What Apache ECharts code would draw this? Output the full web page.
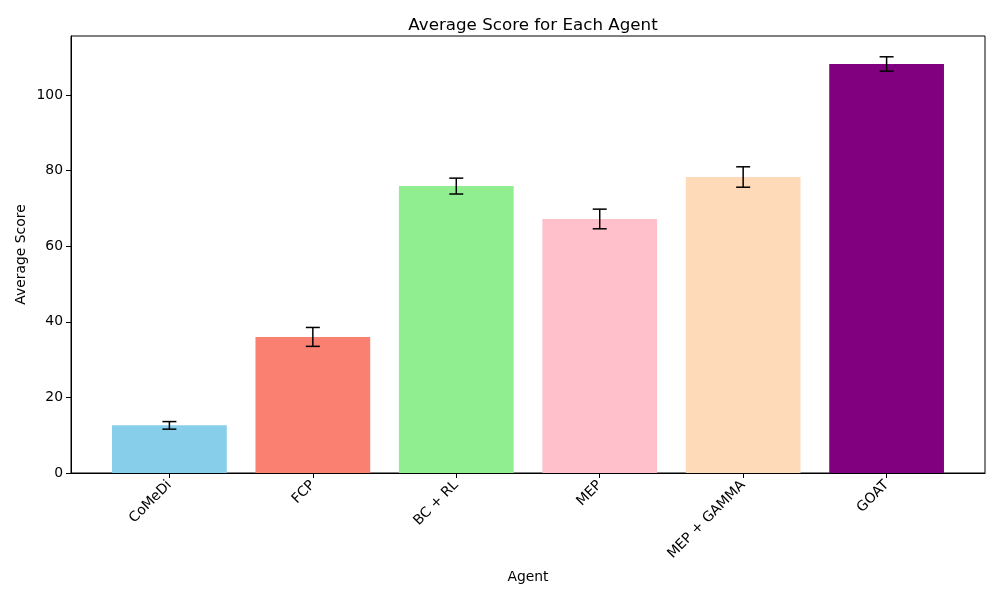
<!DOCTYPE html>
<html>
<head>
<meta charset="utf-8">
<script src="https://cdn.jsdelivr.net/npm/echarts@6/dist/echarts.min.js"></script>
<style>
html,body{margin:0;padding:0;background:#fff;}
#chart{width:1000px;height:600px;}
</style>
</head>
<body>
<div id="chart"></div>
<script>
const categories = ['CoMeDi', 'FCP', 'BC + RL', 'MEP', 'MEP + GAMMA', 'GOAT'];
const scores = [12.6, 36.0, 75.9, 67.2, 78.3, 108.2];
const errors = [1.0, 2.5, 2.1, 2.6, 2.7, 1.9];
const yTicks = [0, 20, 40, 60, 80, 100];

const barColors = ['#87CEEB', '#FA8072', '#90EE90', '#FFC0CB', '#FFDAB9', '#800080'];
const FONT = 'DejaVu Sans';

const barData = categories.map((c, i) => [i, scores[i]]);
const errData = categories.map((c, i) => [i, scores[i], errors[i]]);
const xIdx = categories.map((c, i) => i);

const chart = echarts.init(document.getElementById('chart'), null, {renderer: 'canvas'});
chart.setOption({
  animation: false,
  backgroundColor: '#fff',
  title: {
    text: 'Average Score for Each Agent',
    left: 528, top: 12, textAlign: 'center',
    textStyle: {fontFamily: FONT, fontSize: 16.7, fontWeight: 'normal', color: '#000'}
  },
  grid: {left: 71, right: 15, top: 36, bottom: 127, show: true, borderColor: '#000', borderWidth: 1, backgroundColor: 'transparent'},
  xAxis: {
    type: 'value', min: -0.686, max: 5.686,
    name: 'Agent', nameLocation: 'middle', nameGap: 97,
    nameTextStyle: {fontFamily: FONT, fontSize: 13.9, color: '#000'},
    axisLine: {show: true, onZero: false, lineStyle: {color: '#000', width: 1}},
    axisTick: {show: true, length: 5, lineStyle: {color: '#000', width: 1}, customValues: xIdx},
    axisLabel: {
      customValues: xIdx, rotate: 45, margin: 10,
      fontFamily: FONT, fontSize: 13.9, color: '#000',
      formatter: v => categories[Math.round(v)]
    },
    splitLine: {show: false}
  },
  yAxis: {
    type: 'value', min: 0, max: 115.6,
    name: 'Average Score', nameLocation: 'middle', nameGap: 43, nameMoveOverlap: false,
    nameTextStyle: {fontFamily: FONT, fontSize: 13.9, color: '#000'},
    axisLine: {show: true, onZero: false, lineStyle: {color: '#000', width: 1}},
    axisTick: {show: true, length: 5, lineStyle: {color: '#000', width: 1}, customValues: yTicks},
    axisLabel: {customValues: yTicks, margin: 8, fontFamily: FONT, fontSize: 13.9, color: '#000'},
    splitLine: {show: false}
  },
  series: [
    {
      type: 'custom',
      data: barData,
      renderItem: function (params, api) {
        const i = api.value(0);
        const top = api.coord([i, api.value(1)]);
        const base = api.coord([i, 0]);
        const w = api.size([0.8, 0])[0];
        return {
          type: 'rect',
          shape: {x: top[0] - w / 2, y: top[1], width: w, height: base[1] - top[1]},
          style: {fill: barColors[params.dataIndex]}
        };
      },
      z: 2
    },
    {
      type: 'custom',
      data: errData,
      renderItem: function (params, api) {
        const i = api.value(0), v = api.value(1), e = api.value(2);
        const hi = api.coord([i, v + e]);
        const lo = api.coord([i, v - e]);
        const cap = 7;
        const st = {stroke: '#000', lineWidth: 1.5};
        return {
          type: 'group',
          children: [
            {type: 'line', shape: {x1: hi[0], y1: hi[1], x2: lo[0], y2: lo[1]}, style: st},
            {type: 'line', shape: {x1: hi[0] - cap, y1: hi[1], x2: hi[0] + cap, y2: hi[1]}, style: st},
            {type: 'line', shape: {x1: lo[0] - cap, y1: lo[1], x2: lo[0] + cap, y2: lo[1]}, style: st}
          ]
        };
      },
      z: 3
    }
  ]
});
</script>
</body>
</html>
